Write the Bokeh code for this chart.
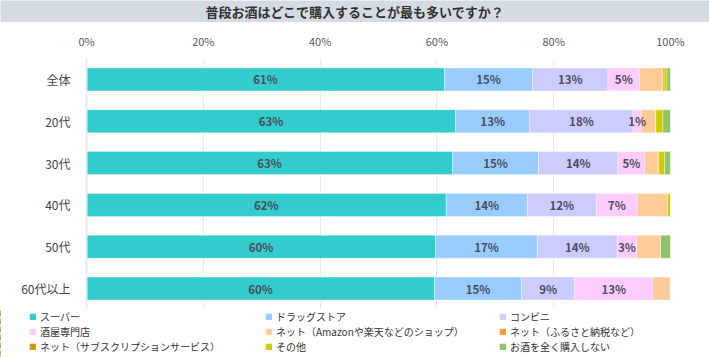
from bokeh.plotting import figure
from bokeh.layouts import column
from bokeh.models import ColumnDataSource, Legend, LegendItem, FixedTicker, Range1d, FactorRange, CustomJSTickFormatter
from bokeh.embed import file_html
from bokeh.resources import INLINE
from bokeh.core.properties import value

title_text = "普段お酒はどこで購入することが最も多いですか？"
groups = ["全体", "20代", "30代", "40代", "50代", "60代以上"]
series_names = [
    "スーパー", "ドラッグストア", "コンビニ", "酒屋専門店",
    "ネット（Amazonや楽天などのショップ）", "ネット（ふるさと納税など）",
    "ネット（サブスクリプションサービス）", "その他", "お酒を全く購入しない",
]
colors = ["#33CCCC", "#99CCFF", "#CCCCFF", "#FFCCFF", "#FFCC99",
          "#FF9933", "#CC9900", "#CCCC00", "#8FC46A"]

super_ = [61.3, 63.2, 62.7, 61.6, 59.8, 59.6]
drug = [15.1, 12.7, 14.7, 13.9, 17.4, 14.9]
conv = [12.9, 17.7, 13.6, 11.8, 13.7, 9.1]
sakaya = [5.4, 1.4, 4.6, 7.0, 3.3, 13.4]
net_shop = [3.9, 2.5, 2.2, 5.2, 4.1, 3.0]
net_furusato = [0.1, 0.0, 0.2, 0.0, 0.0, 0.0]
net_subsc = [0.2, 0.0, 0.0, 0.0, 0.0, 0.0]
other = [0.5, 1.2, 1.0, 0.5, 0.0, 0.0]
none_ = [0.6, 1.3, 1.0, 0.0, 1.7, 0.0]
x_ticks = [0, 20, 40, 60, 80, 100]

all_series = [super_, drug, conv, sakaya, net_shop, net_furusato, net_subsc, other, none_]
keys = ["s%d" % i for i in range(len(all_series))]
data = {"g": groups}
for k, s in zip(keys, all_series):
    data[k] = s
source = ColumnDataSource(data)

FONT = "Noto Sans CJK JP"
W = 709

# ---- title bar ----
tf = figure(width=W, height=22, output_backend="svg", toolbar_location=None,
            x_range=Range1d(0, 1), y_range=Range1d(0, 1),
            x_axis_type=None, y_axis_type=None,
            min_border=0, min_border_left=0, min_border_right=0,
            min_border_top=0, min_border_bottom=0)
tf.frame_align = False
tf.outline_line_color = None
tf.background_fill_color = "#D5DBE2"
tf.border_fill_color = "#D5DBE2"
tf.text(x=[0.5], y=[0.5], text=[title_text], text_align="center", text_baseline="middle",
        text_font=value(FONT), text_font_size="13px", text_font_style="bold",
        text_color="#333333")

# ---- main chart ----
p = figure(width=W, height=287, output_backend="svg", toolbar_location=None,
           y_range=FactorRange(factors=list(reversed(groups))),
           x_range=Range1d(0, 100), x_axis_location="above",
           min_border_left=86, min_border_right=39, min_border_top=36, min_border_bottom=0)
p.outline_line_color = None

renderers = p.hbar_stack(keys, y="g", height=0.55, source=source, color=colors,
                         line_color="white", line_width=0.6, line_alpha=0.6)

lx, ly, lt = [], [], []
for gi, g in enumerate(groups):
    left = 0.0
    for si in range(4):
        v = all_series[si][gi]
        lx.append(left + v / 2.0)
        ly.append(g)
        lt.append("%d%%" % int(round(v)))
        left += v
p.text(x=lx, y=ly, text=lt, text_align="center", text_baseline="middle",
       text_font=value(FONT), text_font_size="11.5px", text_font_style="bold",
       text_color="#4A4E5E")

xa = p.xaxis[0]
xa.ticker = FixedTicker(ticks=x_ticks)
xa.formatter = CustomJSTickFormatter(code="return tick + '%';")
xa.axis_line_color = None
xa.major_tick_line_color = None
xa.minor_tick_line_color = None
xa.major_label_text_font = FONT
xa.major_label_text_font_size = "11px"
xa.major_label_text_color = "#5A5A5A"
xa.major_label_standoff = 4

ya = p.yaxis[0]
ya.axis_line_color = "#E8EBF0"
ya.axis_line_width = 2
ya.major_tick_line_color = None
ya.minor_tick_line_color = None
ya.major_label_text_font = FONT
ya.major_label_text_font_size = "12px"
ya.major_label_text_color = "#444444"
ya.major_label_standoff = 10

p.xgrid.grid_line_color = "#E6E9EF"
p.xgrid.ticker = FixedTicker(ticks=x_ticks)
p.ygrid.grid_line_color = None

# ---- legend strip ----
lf = figure(width=W, height=48, output_backend="svg", toolbar_location=None,
            x_range=Range1d(1000, 1001), y_range=FactorRange(factors=list(reversed(groups))),
            x_axis_type=None, y_axis_type=None,
            min_border=0, min_border_left=0, min_border_right=0,
            min_border_top=0, min_border_bottom=0)
lf.frame_align = False
lf.outline_line_color = None
lf.xgrid.visible = False
lf.ygrid.visible = False
proxies = lf.hbar_stack(keys, y="g", height=0.55, source=source, color=colors)

cols = [[0, 3, 6], [1, 4, 7], [2, 5, 8]]
col_x = [29, 265, 499]
for col, cx in zip(cols, col_x):
    items = [LegendItem(label=value(series_names[i]), renderers=[proxies[i]]) for i in col]
    lg = Legend(items=items, location=(cx, 3), orientation="vertical",
                label_text_font=FONT, label_text_font_size="10px", label_text_color="#333333",
                label_height=12, glyph_height=7, glyph_width=7, label_standoff=4,
                spacing=0, padding=0, margin=0, border_line_color=None,
                background_fill_alpha=0)
    lf.add_layout(lg, "center")

layout = column(tf, p, lf, spacing=0)
open("out.html", "w").write(file_html(layout, INLINE))
